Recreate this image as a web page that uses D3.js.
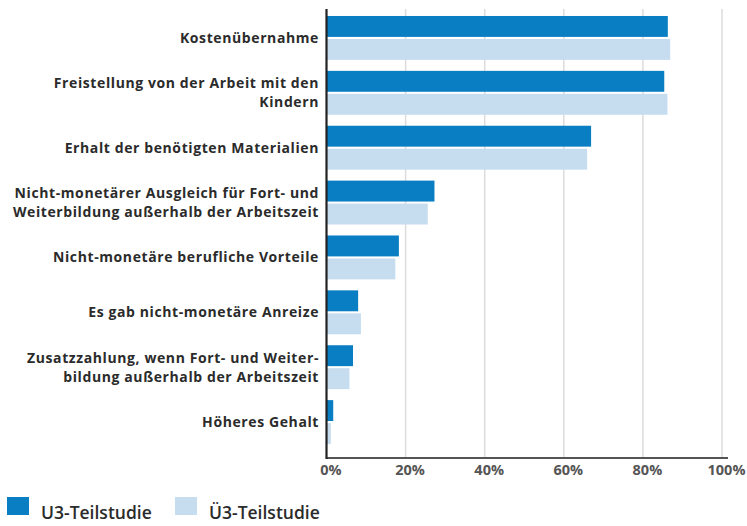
<!DOCTYPE html>
<html>
<head>
<meta charset="utf-8">
<script src="https://cdn.jsdelivr.net/npm/d3@7"></script>
<style>
  html, body { margin: 0; padding: 0; background: #fff; }
  svg { display: block; }
  text { font-family: "Open Sans", "DejaVu Sans", sans-serif; }
</style>
</head>
<body>
<svg id="chart" width="747" height="526"></svg>
<script>
// Category labels (line breaks as printed)
const categories = [
  ["Kostenübernahme"],
  ["Freistellung von der Arbeit mit den", "Kindern"],
  ["Erhalt der benötigten Materialien"],
  ["Nicht-monetärer Ausgleich für Fort- und", "Weiterbildung außerhalb der Arbeitszeit"],
  ["Nicht-monetäre berufliche Vorteile"],
  ["Es gab nicht-monetäre Anreize"],
  ["Zusatzzahlung, wenn Fort- und Weiter-", "bildung außerhalb der Arbeitszeit"],
  ["Höheres Gehalt"]
];
const seriesNames = ["U3-Teilstudie", "Ü3-Teilstudie"];
const u3Values = [86.3, 85.4, 66.9, 27.3, 18.3, 8.0, 6.7, 1.7];
const ue3Values = [86.9, 86.2, 65.9, 25.6, 17.4, 8.7, 5.8, 1.1];
const tickValues = [0, 20, 40, 60, 80, 100];

const colors = ["#0a7ec2", "#c6dcef"];

const svg = d3.select("#chart");

const x = d3.scaleLinear().domain([0, 100]).range([326.5, 722]);
const y = d3.scaleBand()
  .domain(d3.range(categories.length))
  .range([10.5, 449.5])
  .paddingInner(0.2)
  .paddingOuter(0.1);
const ySub = d3.scaleBand()
  .domain([0, 1])
  .range([0, y.bandwidth()])
  .paddingInner(0.09);

const plotTop = 9, plotBottom = 458;

// vertical gridlines
svg.append("g")
  .selectAll("line")
  .data(tickValues.filter(d => d > 0))
  .join("line")
  .attr("x1", d => x(d)).attr("x2", d => x(d))
  .attr("y1", plotTop).attr("y2", plotBottom)
  .attr("stroke", "#dcdcdc")
  .attr("stroke-width", 1.5);

// bars
const rows = categories.map((c, i) => ({ i, values: [u3Values[i], ue3Values[i]] }));
const groups = svg.append("g")
  .selectAll("g")
  .data(rows)
  .join("g")
  .attr("transform", d => `translate(0,${y(d.i)})`);

groups.selectAll("rect")
  .data(d => d.values.map((v, s) => ({ v, s })))
  .join("rect")
  .attr("x", x(0))
  .attr("y", d => ySub(d.s))
  .attr("width", d => x(d.v) - x(0))
  .attr("height", ySub.bandwidth())
  .attr("fill", d => colors[d.s]);

// bottom axis
const xAxis = d3.axisBottom(x)
  .tickValues(tickValues)
  .tickSize(0)
  .tickPadding(7)
  .tickFormat(d => d + "%");
const gx = svg.append("g")
  .attr("transform", `translate(0,${plotBottom})`)
  .call(xAxis);
gx.select(".domain").attr("stroke", "#555").attr("stroke-width", 1.8)
  .attr("d", `M${x(0)},0H${x(100) + 6}`);
gx.selectAll(".tick text")
  .attr("dx", 4)
  .attr("fill", "#555")
  .attr("font-size", 14.5)
  .attr("font-weight", 700);

// vertical zero axis
svg.append("line")
  .attr("x1", x(0)).attr("x2", x(0))
  .attr("y1", plotTop).attr("y2", plotBottom + 1)
  .attr("stroke", "#222")
  .attr("stroke-width", 2.2);

// category labels, one text element per printed line
const lh = 19;
const labelLines = categories.flatMap((lines, i) => {
  const cy = y(i) + y.bandwidth() / 2;
  const first = cy + 5 - (lines.length - 1) * lh / 2;
  return lines.map((t, k) => ({ t, y: first + k * lh }));
});
svg.append("g")
  .selectAll("text")
  .data(labelLines)
  .join("text")
  .attr("x", 319)
  .attr("y", d => d.y)
  .attr("text-anchor", "end")
  .attr("fill", "#2b2b2b")
  .attr("font-size", 14)
  .attr("letter-spacing", 0.6)
  .attr("font-weight", 700)
  .text(d => d.t);

// legend
const legendX = [7, 175];
const leg = svg.append("g")
  .selectAll("g")
  .data(seriesNames)
  .join("g")
  .attr("transform", (d, i) => `translate(${legendX[i]},497)`);
leg.append("rect")
  .attr("width", 22).attr("height", 18)
  .attr("fill", (d, i) => colors[i]);
leg.append("text")
  .attr("x", 34).attr("y", 22)
  .attr("font-size", 17.5)
  .attr("font-weight", 600)
  .attr("fill", "#2b2b2b")
  .text(d => d);
</script>
</body>
</html>
